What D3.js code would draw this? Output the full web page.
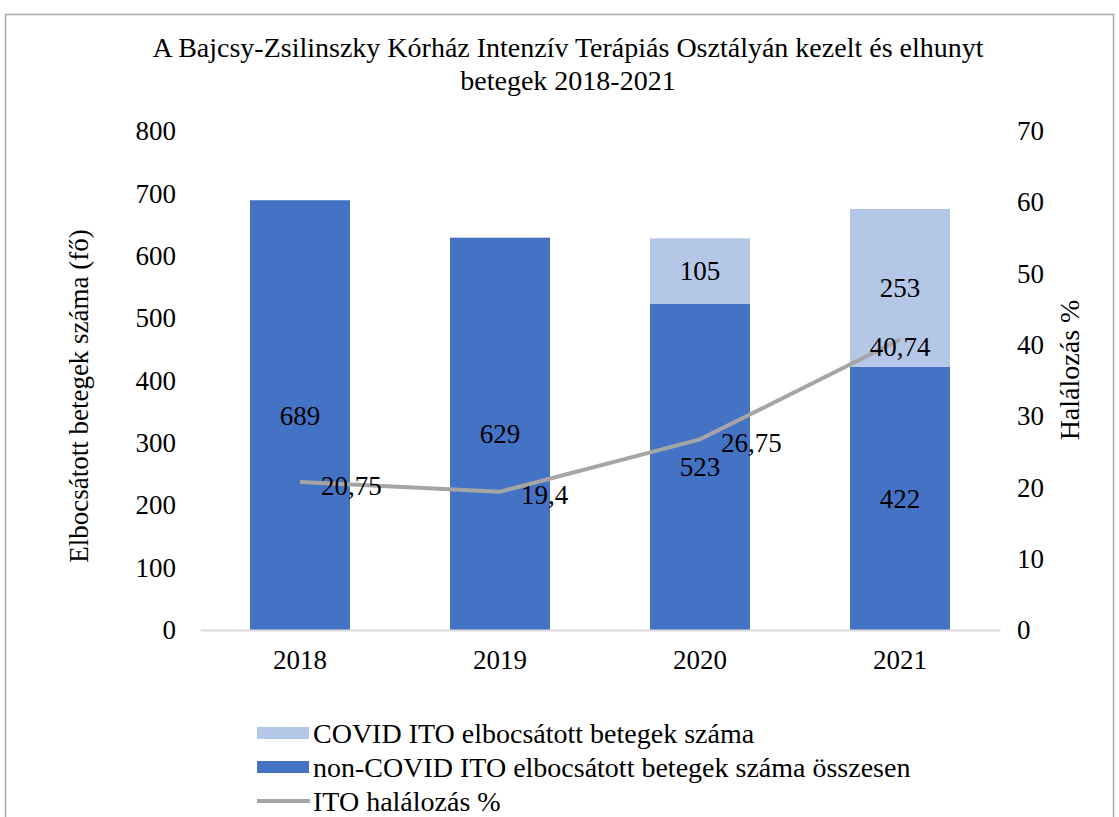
<!DOCTYPE html>
<html>
<head>
<meta charset="utf-8">
<script src="https://cdnjs.cloudflare.com/ajax/libs/d3/7.8.5/d3.min.js"></script>
<style>
  body { margin: 0; background: #fff; }
  svg text { font-family: "Liberation Serif", "Times New Roman", serif; fill: #000; }
</style>
</head>
<body>
<script>
// chart data
var years = ["2018", "2019", "2020", "2021"];
var nonCovid = [689, 629, 523, 422];
var covid = [0, 0, 105, 253];
var mortality = [20.75, 19.4, 26.75, 40.74];
var mortalityLabels = ["20,75", "19,4", "26,75", "40,74"];
var leftTicks = [0, 100, 200, 300, 400, 500, 600, 700, 800];
var rightTicks = [0, 10, 20, 30, 40, 50, 60, 70];

var width = 1119, height = 817;
var plotLeft = 200, plotRight = 1000, plotTop = 131, plotBottom = 630;
var fs = 27;

var svg = d3.select("body").append("svg")
  .attr("width", width)
  .attr("height", height);

svg.append("rect")
  .attr("x", 5.5).attr("y", 14.5)
  .attr("width", 1108).attr("height", 830)
  .attr("fill", "#fff")
  .attr("stroke", "#a6a6a6")
  .attr("stroke-width", 1.5);

// title
var title = svg.append("text")
  .attr("text-anchor", "middle")
  .attr("font-size", 28);
title.append("tspan").attr("x", 568).attr("y", 57)
  .text("A Bajcsy-Zsilinszky Kórház Intenzív Terápiás Osztályán kezelt és elhunyt");
title.append("tspan").attr("x", 568).attr("y", 90)
  .text("betegek 2018-2021");

var x = d3.scaleBand().domain(years).range([plotLeft, plotRight]).paddingInner(0.5).paddingOuter(0.25);
var xPoint = function(d) { return x(d) + x.bandwidth() / 2; };
var yLeft = d3.scaleLinear().domain([0, 800]).range([plotBottom, plotTop]);
var yRight = d3.scaleLinear().domain([0, 70]).range([plotBottom, plotTop]);

// left axis
var leftAxis = svg.append("g")
  .attr("transform", "translate(" + plotLeft + ",0)")
  .call(d3.axisLeft(yLeft).tickValues(leftTicks).tickSize(0).tickPadding(24));
leftAxis.select(".domain").remove();
leftAxis.selectAll("text").attr("font-size", fs);

// right axis
var rightAxis = svg.append("g")
  .attr("transform", "translate(" + plotRight + ",0)")
  .call(d3.axisRight(yRight).tickValues(rightTicks).tickSize(0).tickPadding(17));
rightAxis.select(".domain").remove();
rightAxis.selectAll("text").attr("font-size", fs);

// bars
var bars = svg.append("g");
bars.selectAll(".noncovid").data(years).enter().append("rect")
  .attr("class", "noncovid")
  .attr("x", function(d) { return x(d); })
  .attr("width", x.bandwidth())
  .attr("y", function(d, i) { return yLeft(nonCovid[i]); })
  .attr("height", function(d, i) { return yLeft(0) - yLeft(nonCovid[i]); })
  .attr("fill", "#4472c4");

bars.selectAll(".covid").data(years).enter().append("rect")
  .attr("class", "covid")
  .attr("x", function(d) { return x(d); })
  .attr("width", x.bandwidth())
  .attr("y", function(d, i) { return yLeft(nonCovid[i] + covid[i]); })
  .attr("height", function(d, i) { return yLeft(nonCovid[i]) - yLeft(nonCovid[i] + covid[i]); })
  .attr("fill", "#b4c7e7");

// x axis
var bottomAxis = svg.append("g")
  .attr("transform", "translate(0," + plotBottom + ")")
  .call(d3.axisBottom(x).tickSize(0).tickPadding(20));
bottomAxis.select(".domain").attr("stroke", "#d9d9d9").attr("stroke-width", 2);
bottomAxis.selectAll("text").attr("font-size", fs);

// bar labels
svg.append("g").selectAll("text").data(years).enter().append("text")
  .attr("x", xPoint)
  .attr("y", function(d, i) { return yLeft(nonCovid[i] / 2); })
  .attr("dy", "0.35em")
  .attr("text-anchor", "middle")
  .attr("font-size", fs)
  .text(function(d, i) { return nonCovid[i]; });

svg.append("g").selectAll("text").data(years.filter(function(d, i) { return covid[i] > 0; })).enter().append("text")
  .attr("x", xPoint)
  .attr("y", function(d) { var i = years.indexOf(d); return yLeft(nonCovid[i] + covid[i] / 2); })
  .attr("dy", "0.35em")
  .attr("text-anchor", "middle")
  .attr("font-size", fs)
  .text(function(d) { return covid[years.indexOf(d)]; });

// mortality line
var line = d3.line()
  .x(function(d, i) { return xPoint(years[i]); })
  .y(function(d) { return yRight(d); });
svg.append("path")
  .datum(mortality)
  .attr("d", line)
  .attr("fill", "none")
  .attr("stroke", "#a5a5a5")
  .attr("stroke-width", 4)
  .attr("stroke-linejoin", "round");

svg.append("g").selectAll("text").data(mortality).enter().append("text")
  .attr("x", function(d, i) { return i == 3 ? xPoint(years[i]) : xPoint(years[i]) + 21; })
  .attr("y", function(d, i) { return i == 3 ? yRight(d) + 7 : yRight(d) + 3; })
  .attr("dy", "0.35em")
  .attr("text-anchor", function(d, i) { return i == 3 ? "middle" : "start"; })
  .attr("font-size", fs)
  .text(function(d, i) { return mortalityLabels[i]; });

// axis titles
svg.append("text")
  .attr("transform", "translate(88,396) rotate(-90)")
  .attr("text-anchor", "middle")
  .attr("font-size", fs)
  .text("Elbocsátott betegek száma (fő)");
svg.append("text")
  .attr("transform", "translate(1079,370) rotate(-90)")
  .attr("text-anchor", "middle")
  .attr("font-size", 28)
  .text("Halálozás %");

// legend
var legendItems = [
  { label: "COVID ITO elbocsátott betegek száma", color: "#b4c7e7", type: "rect" },
  { label: "non-COVID ITO elbocsátott betegek száma összesen", color: "#4472c4", type: "rect" },
  { label: "ITO halálozás %", color: "#a5a5a5", type: "line" }
];
var legend = svg.append("g");
legendItems.forEach(function(item, i) {
  var cy = 733 + i * 34;
  if (item.type == "rect") {
    legend.append("rect").attr("x", 257).attr("y", cy - 6).attr("width", 52).attr("height", 12).attr("fill", item.color);
  } else {
    legend.append("line").attr("x1", 257).attr("x2", 310).attr("y1", cy).attr("y2", cy)
      .attr("stroke", item.color).attr("stroke-width", 4);
  }
  legend.append("text").attr("x", 313).attr("y", cy).attr("dy", "0.35em")
    .attr("font-size", 28).text(item.label);
});
</script>
</body>
</html>
